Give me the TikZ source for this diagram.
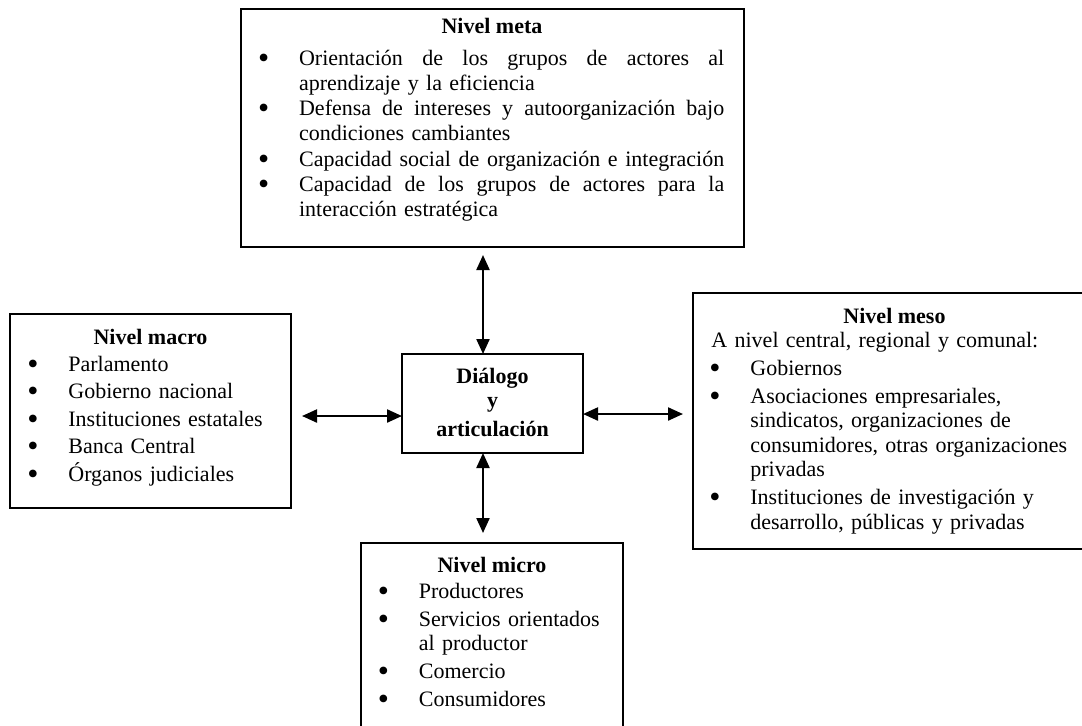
\documentclass[tikz,border=0pt]{standalone}
\usepackage{graphicx}
\usepackage{fontspec}
\setmainfont{Liberation Serif}
\usetikzlibrary{arrows.meta,calc}

% keep a fixed baseline distance even for accented capitals
\setlength{\lineskiplimit}{-20pt}

% bullet hung to the left of the item text
\newcommand\bul{\leavevmode\llap{\makebox[0pt][c]{\smash{\raisebox{-1.5pt}{\scalebox{1.45}{\textbullet}}}}\hspace{17.75pt}}}
% full-width (justified) line of the goal box
\newcommand\jl[1]{\hbox to 212.6pt{#1}}

\begin{document}
\begin{tikzpicture}[x=0.5pt,y=-0.5pt,
  box/.style={draw, line width=0.8pt, inner sep=0pt, outer sep=0pt, anchor=north west},
  ttl/.style={font=\fontsize{11pt}{12.25pt}\selectfont\bfseries, anchor=base, inner sep=0pt},
  items/.style={anchor=base west, inner sep=0pt, align=left, text width=#1,
    font=\fontsize{11pt}{12.25pt}\selectfont},
  conn/.style={{Triangle[length=7.5pt,width=6.5pt]}-{Triangle[length=7.5pt,width=6.5pt]}, line width=1.1pt},
]
\useasboundingbox (0,0) rectangle (1082,725);
\begin{scope}
\clip (0,0) rectangle (1082,725);

% frames
\node[box, minimum width=251.5pt, minimum height=119pt] (meta) at (241,9) {};
\node[box, minimum width=140.5pt, minimum height=97pt] (macro) at (10,314) {};
\node[box, minimum width=90.5pt, minimum height=49.5pt] (dlg) at (402,354) {};
\node[box, minimum width=201.5pt, minimum height=128pt] (meso) at (693,293) {};
\node[box, minimum width=131pt, minimum height=95pt] (micro) at (361,543) {};

% meta level
\node[ttl] (metaT) at (492,33) {Nivel meta};
\node[items=212.65pt, font=\fontsize{11pt}{12.65pt}\selectfont] (metaL) at (298.7,65) {%
\bul\jl{Orientación\hfill de\hfill los\hfill grupos\hfill de\hfill actores\hfill al}\\
aprendizaje y la eficiencia\\
\bul\jl{Defensa\hfill de\hfill intereses\hfill y\hfill autoorganización\hfill bajo}\\
condiciones cambiantes\\
\bul\jl{Capacidad\hfill social\hfill de\hfill organización\hfill e\hfill integración}\\
\bul\jl{Capacidad\hfill de\hfill los\hfill grupos\hfill de\hfill actores\hfill para\hfill la}\\
interacción estratégica};

% macro level
\node[ttl] (macroT) at (150.5,344) {Nivel macro};
\node[items=115pt] (macroL) at (68,371) {%
\bul Parlamento\\[1.5pt]
\bul Gobierno nacional\\[1.5pt]
\bul Instituciones estatales\\[1.5pt]
\bul Banca Central\\[1.5pt]
\bul Órganos judiciales};

% centre
\node[ttl, align=center, text width=90pt] (dlgT) at (492.5,383) {Diálogo\\y\\[2pt]articulación};

% meso level
\node[ttl] (mesoT) at (894.5,323) {Nivel meso};
\node[items=180pt] (mesoI) at (711,347) {A nivel central, regional y comunal:};
\node[items=175pt] (mesoL) at (750,375) {%
\bul Gobiernos\\[1.75pt]
\bul Asociaciones empresariales,\\
sindicatos, organizaciones de\\
consumidores, otras organizaciones\\
privadas\\[1.75pt]
\bul Instituciones de investigación y\\
desarrollo, públicas y privadas};

% micro level
\node[ttl] (microT) at (492,572) {Nivel micro};
\node[items=100pt] (microL) at (418.5,598) {%
\bul Productores\\[1.75pt]
\bul Servicios orientados\\
al productor\\[1.75pt]
\bul Comercio\\[1.75pt]
\bul Consumidores};

% connectors
\coordinate (la) at ($(dlg.west)+(0,-6.25pt)$);
\coordinate (ra) at ($(dlg.east)+(0,-5.25pt)$);
\draw[conn, shorten <=4pt] ($(meta.south)+(-4.75pt,0)$) -- ($(dlg.north)+(-4.75pt,0)$);
\draw[conn, shorten >=5pt] ($(dlg.south)+(-4.75pt,0)$) -- ($(dlg.south |- micro.north)+(-4.75pt,0)$);
\draw[conn, shorten <=5.5pt] (macro.east |- la) -- (la);
\draw[conn, shorten >=5pt] (ra) -- (meso.west |- ra);
\end{scope}
\end{tikzpicture}
\end{document}
